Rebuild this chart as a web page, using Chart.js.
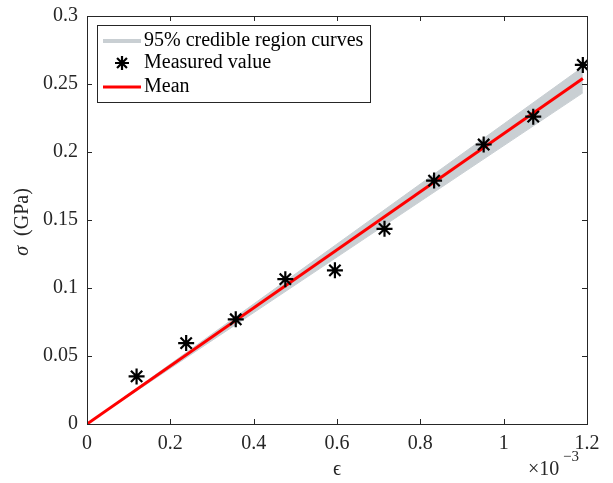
<!DOCTYPE html>
<html lang="en">
<head>
<meta charset="UTF-8">
<title>Stress vs strain</title>
<script src="https://cdn.jsdelivr.net/npm/chart.js"></script>
<style>
  html, body { margin: 0; padding: 0; background: #fff; }
  canvas { display: block; }
</style>
</head>
<body>
<canvas id="chart" width="613" height="483"></canvas>
<script>
// --- DATA --- (strain in units of 1e-3, stress in GPa)
const strainMeasured = [0.119, 0.238, 0.357, 0.476, 0.595, 0.714, 0.833, 0.952, 1.071, 1.19];
const stressMeasured = [0.035, 0.0595, 0.077, 0.1065, 0.113, 0.1435, 0.179, 0.2055, 0.226, 0.264];
const strainCurve = [0, 1.19];
const stressMean = [0, 0.254];
const stressUpper = [0, 0.2625];
const stressLower = [0, 0.2435];
const xTicks = [0, 0.2, 0.4, 0.6, 0.8, 1, 1.2];
const yTicks = [0, 0.05, 0.1, 0.15, 0.2, 0.25, 0.3];

const AX = '#262626';
const BAND = '#c9cfd3';
const FONT = '"Liberation Serif", "DejaVu Serif", serif';

const pts = (xs, ys) => xs.map((x, i) => ({ x: x, y: ys[i] }));

// axes box, inward ticks, axis labels and legend
const decor = {
  id: 'decor',
  afterDraw(chart) {
    const { ctx, chartArea: a, scales: { x, y } } = chart;
    ctx.save();
    ctx.strokeStyle = AX;
    ctx.lineWidth = 1;
    ctx.strokeRect(a.left + 0.5, a.top + 0.5, a.right - a.left, a.bottom - a.top);
    ctx.beginPath();
    xTicks.forEach(v => {
      const px = Math.round(x.getPixelForValue(v)) + 0.5;
      ctx.moveTo(px, a.bottom); ctx.lineTo(px, a.bottom - 5);
      ctx.moveTo(px, a.top); ctx.lineTo(px, a.top + 5);
    });
    yTicks.forEach(v => {
      const py = Math.round(y.getPixelForValue(v)) + 0.5;
      ctx.moveTo(a.left, py); ctx.lineTo(a.left + 5, py);
      ctx.moveTo(a.right, py); ctx.lineTo(a.right - 5, py);
    });
    ctx.stroke();

    // axis titles
    ctx.fillStyle = AX;
    ctx.textAlign = 'center';
    ctx.textBaseline = 'middle';
    ctx.font = '20px ' + FONT;
    ctx.fillText('\u03F5', (a.left + a.right) / 2, 470);
    ctx.save();
    ctx.translate(23, 222);
    ctx.rotate(-Math.PI / 2);
    ctx.font = 'italic 20px ' + FONT;
    const s1 = '\u03C3', s2 = '  (GPa)';
    const w1 = ctx.measureText(s1).width;
    ctx.font = '20px ' + FONT;
    const w2 = ctx.measureText(s2).width;
    ctx.textAlign = 'left';
    ctx.font = 'italic 20px ' + FONT;
    ctx.fillText(s1, -(w1 + w2) / 2, 0);
    ctx.font = '20px ' + FONT;
    ctx.fillText(s2, -(w1 + w2) / 2 + w1, 0);
    ctx.restore();

    // x10^-3 exponent
    ctx.textAlign = 'left';
    ctx.font = '20px ' + FONT;
    ctx.fillText('\u00D710', 528, 470);
    ctx.font = '15px ' + FONT;
    ctx.fillText('\u22123', 563, 457);

    // legend
    const lx = 97, ly = 25, lw = 273, lh = 77;
    ctx.fillStyle = '#fff';
    ctx.fillRect(lx, ly, lw, lh);
    ctx.strokeStyle = AX;
    ctx.lineWidth = 1;
    ctx.strokeRect(lx + 0.5, ly + 0.5, lw, lh);
    const rows = [41, 63, 87];
    const ds = chart.data.datasets;
    const items = [
      { label: ds[3].label, color: ds[3].borderColor, kind: 'line', w: 4 },
      { label: ds[0].label, color: ds[0].borderColor, kind: 'star' },
      { label: ds[1].label, color: ds[1].borderColor, kind: 'line', w: 3 }
    ];
    items.forEach((it, i) => {
      const ry = rows[i];
      ctx.strokeStyle = it.color;
      if (it.kind === 'line') {
        ctx.lineWidth = it.w;
        ctx.beginPath();
        ctx.moveTo(103, ry); ctx.lineTo(141, ry);
        ctx.stroke();
      } else {
        ctx.lineWidth = 2.2;
        ctx.beginPath();
        for (let k = 0; k < 4; k++) {
          const t = k * Math.PI / 4;
          const r = 7;
          ctx.moveTo(122 - r * Math.cos(t), ry - r * Math.sin(t));
          ctx.lineTo(122 + r * Math.cos(t), ry + r * Math.sin(t));
        }
        ctx.stroke();
      }
      ctx.fillStyle = '#000';
      ctx.font = '20px ' + FONT;
      ctx.textAlign = 'left';
      ctx.textBaseline = 'middle';
      ctx.fillText(it.label, 144, ry);
    });
    ctx.restore();
  }
};

new Chart(document.getElementById('chart'), {
  type: 'scatter',
  data: {
    datasets: [
      {
        label: 'Measured value',
        data: pts(strainMeasured, stressMeasured),
        pointStyle: 'star',
        pointRadius: 8,
        pointHoverRadius: 8,
        borderColor: '#000',
        backgroundColor: '#000',
        pointBorderWidth: 2.2,
        showLine: false,
        order: 0
      },
      {
        label: 'Mean',
        data: pts(strainCurve, stressMean),
        showLine: true,
        borderColor: '#ff0000',
        borderWidth: 3,
        pointRadius: 0,
        order: 1
      },
      {
        label: 'upper',
        data: pts(strainCurve, stressUpper),
        showLine: true,
        borderColor: BAND,
        backgroundColor: BAND,
        borderWidth: 1,
        pointRadius: 0,
        fill: '+1',
        order: 2
      },
      {
        label: '95% credible region curves',
        data: pts(strainCurve, stressLower),
        showLine: true,
        borderColor: BAND,
        backgroundColor: BAND,
        borderWidth: 1,
        pointRadius: 0,
        order: 3
      }
    ]
  },
  options: {
    responsive: false,
    animation: false,
    maintainAspectRatio: false,
    devicePixelRatio: 1,
    layout: { padding: { top: 16, right: 26, left: 0, bottom: 0 } },
    plugins: { legend: { display: false }, tooltip: { enabled: false } },
    scales: {
      x: {
        type: 'linear', min: 0, max: 1.2,
        afterFit: s => { s.height = 59; s.paddingLeft = 0; s.paddingRight = 0; },
        afterBuildTicks: s => { s.ticks = xTicks.map(v => ({ value: v })); },
        grid: { display: false, drawTicks: false },
        border: { display: false },
        ticks: {
          color: AX, padding: 8,
          font: { family: FONT, size: 20 },
          callback: v => String(Number(v.toFixed(2)))
        }
      },
      y: {
        type: 'linear', min: 0, max: 0.3,
        afterFit: s => { s.width = 87; s.paddingTop = 0; s.paddingBottom = 0; },
        afterBuildTicks: s => { s.ticks = yTicks.map(v => ({ value: v })); },
        grid: { display: false, drawTicks: false },
        border: { display: false },
        ticks: {
          color: AX, padding: 9,
          font: { family: FONT, size: 20 },
          callback: v => String(Number(v.toFixed(2)))
        }
      }
    }
  },
  plugins: [decor]
});
</script>
</body>
</html>
